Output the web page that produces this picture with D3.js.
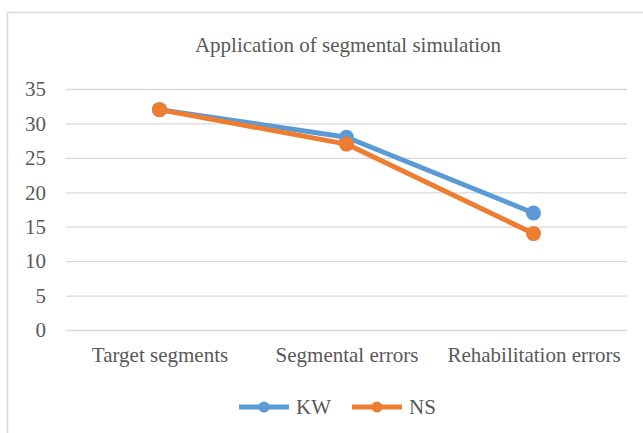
<!DOCTYPE html>
<html>
<head>
<meta charset="utf-8">
<script src="https://cdn.jsdelivr.net/npm/d3@7"></script>
<style>
  body { margin: 0; background: #fff; }
  svg text { font-family: "Liberation Serif", "Times New Roman", serif; fill: #595959; }
</style>
</head>
<body>
<div id="chart"></div>
<script>
var categories = ["Target segments", "Segmental errors", "Rehabilitation errors"];
var kwValues = [32, 28, 17];
var nsValues = [32, 27, 14];
var yTicks = [0, 5, 10, 15, 20, 25, 30, 35];
var seriesNames = ["KW", "NS"];

var width = 643, height = 433;
var margin = {top: 89, right: 16, bottom: 103, left: 66};
var innerW = width - margin.left - margin.right,
    innerH = height - margin.top - margin.bottom;

var svg = d3.select("#chart").append("svg")
    .attr("width", width)
    .attr("height", height);

// outer chart border (cut off at right and bottom)
svg.append("rect")
    .attr("x", 7.5).attr("y", 12.5)
    .attr("width", 660).attr("height", 450)
    .attr("fill", "none")
    .attr("stroke", "#d9d9d9")
    .attr("stroke-width", 1.5);

svg.append("text")
    .attr("x", 348).attr("y", 52)
    .attr("text-anchor", "middle")
    .style("font-size", "21px")
    .text("Application of segmental simulation");

var g = svg.append("g")
    .attr("transform", "translate(" + margin.left + "," + margin.top + ")");

var x = d3.scalePoint().domain(categories).range([0, innerW]).padding(0.5);
var y = d3.scaleLinear().domain([0, 35]).range([innerH, 0]);

// gridlines
g.append("g")
    .call(d3.axisLeft(y).tickValues(yTicks).tickSize(-innerW).tickFormat(""))
    .call(function(s) {
      s.select(".domain").remove();
      s.selectAll("line").attr("stroke", "#d9d9d9").attr("stroke-width", 1.3);
    });

// y labels
g.append("g")
    .call(d3.axisLeft(y).tickValues(yTicks).tickSize(0).tickPadding(20))
    .call(function(s) {
      s.select(".domain").remove();
      s.selectAll("text").style("font-size", "21px").attr("fill", "#595959");
    });

// x labels
g.append("g")
    .attr("transform", "translate(0," + innerH + ")")
    .call(d3.axisBottom(x).tickSize(0).tickPadding(17))
    .call(function(s) {
      s.select(".domain").remove();
      s.selectAll("text").style("font-size", "21px").attr("fill", "#595959");
    });

var series = [
  {name: seriesNames[0], values: kwValues, color: "#5B9BD5"},
  {name: seriesNames[1], values: nsValues, color: "#ED7D31"}
];

var line = d3.line()
    .x(function(d, i) { return x(categories[i]); })
    .y(function(d) { return y(d); });

series.forEach(function(s) {
  g.append("path")
      .datum(s.values)
      .attr("fill", "none")
      .attr("stroke", s.color)
      .attr("stroke-width", 5)
      .attr("stroke-linejoin", "round")
      .attr("stroke-linecap", "round")
      .attr("d", line);
  g.selectAll(null)
      .data(s.values)
      .enter().append("circle")
      .attr("cx", function(d, i) { return x(categories[i]); })
      .attr("cy", function(d) { return y(d); })
      .attr("r", 7.5)
      .attr("fill", s.color);
});

// legend
var legend = svg.append("g").attr("transform", "translate(239,407)");
series.forEach(function(s, i) {
  var lg = legend.append("g").attr("transform", "translate(" + (i * 113) + ",0)");
  lg.append("line")
      .attr("x1", 0).attr("x2", 50)
      .attr("stroke", s.color).attr("stroke-width", 5);
  lg.append("circle").attr("cx", 25).attr("r", 5.5).attr("fill", s.color);
  lg.append("text")
      .attr("x", 57).attr("y", 7)
      .style("font-size", "21px")
      .text(s.name);
});
</script>
</body>
</html>
